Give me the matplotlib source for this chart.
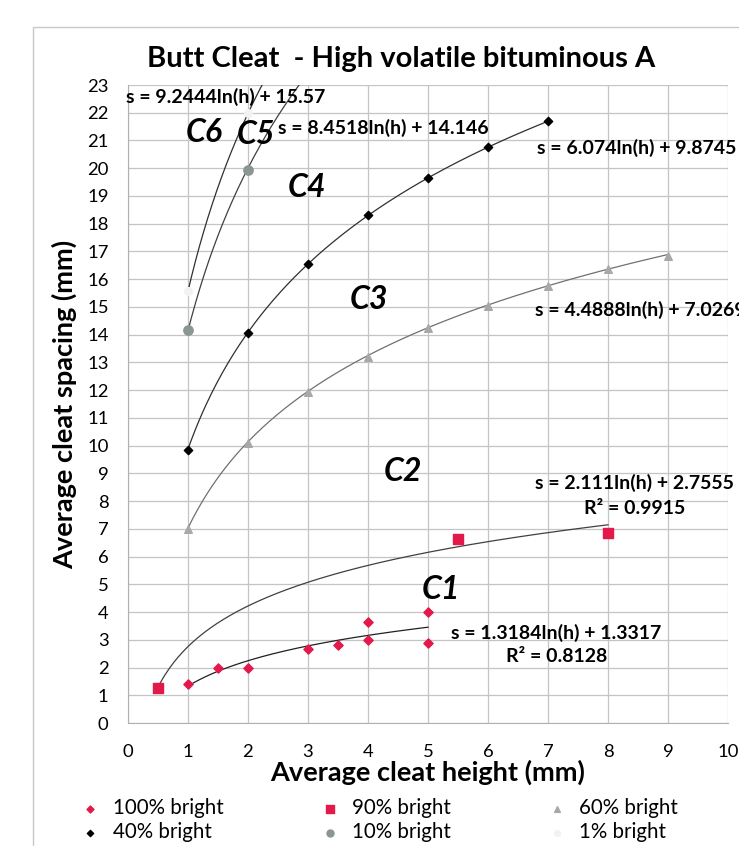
import numpy as np
import matplotlib.pyplot as plt
from matplotlib.patches import Rectangle

plt.rcParams['font.family'] = ['Lato', 'DejaVu Sans']

# data
h100 = [1, 1.5, 2, 3, 3.5, 4, 4, 5, 5]
s100 = [1.4, 2.0, 2.0, 2.65, 2.8, 3.65, 3.0, 4.0, 2.9]
h90 = [0.5, 5.5, 8]
s90 = [1.25, 6.63, 6.85]
h60 = [1, 2, 3, 4, 5, 6, 7, 8, 9]
s60 = [7.0, 10.1, 11.95, 13.2, 14.25, 15.05, 15.75, 16.35, 16.85]
h40 = [1, 2, 3, 4, 5, 6, 7]
s40 = [9.85, 14.05, 16.55, 18.3, 19.65, 20.75, 21.7]
h10 = [1, 2]
s10 = [14.15, 19.95]
h1 = [1, 2]
s1 = [15.57, 21.98]

# log trendlines: (a, b, h start, h end)
trends = {
    '100': (1.3184, 1.3317, 1, 5),
    '90': (2.111, 2.7555, 0.5, 8),
    '60': (4.4888, 7.0269, 1, 9),
    '40': (6.074, 9.8745, 1, 7),
    '10': (8.4518, 14.146, 1, 3),
    '1': (9.2444, 15.57, 1, 2.5),
}
trend_colors = {'100': '#202020', '90': '#404040', '60': '#707070',
                '40': '#303030', '10': '#404040', '1': '#303030'}

fig = plt.figure(figsize=(7.39, 8.46), dpi=100)
ax = fig.add_axes([128 / 739, 1 - 723 / 846, 600 / 739, 638 / 846])

# chart border
fig.patches.append(Rectangle((33 / 739, -0.01), 1.0, 1.01 - 27 / 846, transform=fig.transFigure,
                             fill=False, edgecolor='#c8c8c8', lw=1))

for k, (a, b, h0, h1_) in trends.items():
    hh = np.linspace(h0, h1_, 200)
    ax.plot(hh, a * np.log(hh) + b, color=trend_colors[k], lw=0.9, zorder=2)

ax.scatter(h100, s100, marker='D', s=22, color='#e3194b', zorder=3, label='100% bright')
ax.scatter(h40, s40, marker='D', s=18, color='black', zorder=3, label='40% bright')
ax.scatter(h90, s90, marker='s', s=50, color='#e3194b', zorder=3, label='90% bright')
ax.scatter(h10, s10, marker='o', s=45, color='#8a9690', zorder=3, label='10% bright')
ax.scatter(h60, s60, marker='^', s=30, color='#a8a8a8', zorder=3, label='60% bright')
ax.scatter(h1, s1, marker='o', s=30, color='#f2f2f2', zorder=3, label='1% bright')

ax.set_xlim(0, 10)
ax.set_ylim(0, 23)
ax.set_xticks(range(0, 11))
ax.set_yticks(range(0, 24))
ax.grid(True, color='#c4c4c4', lw=0.9)
ax.set_axisbelow(True)
for sp in ['top', 'right']:
    ax.spines[sp].set_visible(False)
for sp in ['left', 'bottom']:
    ax.spines[sp].set_color('#b0b0b0')
ax.tick_params(axis='x', length=0, labelsize=13.3, pad=15)
ax.tick_params(axis='y', length=0, labelsize=13.3, pad=14)

ax.set_xlabel('Average cleat height (mm)', fontsize=19.5, fontweight='bold', labelpad=0)
ax.set_ylabel('Average cleat spacing (mm)', fontsize=19.5, fontweight='bold', labelpad=7)
fig.text(401 / 739, 1 - 59 / 846, 'Butt Cleat  - High volatile bituminous A', ha='center',
         va='center', fontsize=21, fontweight='bold')

# equations and zone labels
eq = dict(fontsize=14, fontweight='bold', va='center')
ax.text(-0.03, 22.57, 's = 9.2444ln(h) + 15.57', **eq)
ax.text(2.5, 21.45, 's = 8.4518ln(h) + 14.146', **eq)
ax.text(6.82, 20.73, 's = 6.074ln(h) + 9.8745', **eq)
ax.text(6.78, 14.89, 's = 4.4888ln(h) + 7.0269', clip_on=False, **eq)
ax.text(6.78, 8.65, 's = 2.111ln(h) + 2.7555', **eq)
ax.text(7.6, 7.75, 'R² = 0.9915', **eq)
ax.text(5.38, 3.24, 's = 1.3184ln(h) + 1.3317', **eq)
ax.text(6.3, 2.38, 'R² = 0.8128', **eq)

zone = dict(fontsize=23, fontweight='bold', style='italic', va='center')
ax.text(0.97, 21.3, 'C6', **zone)
ax.text(1.82, 21.2, 'C5', **zone)
ax.text(2.67, 19.32, 'C4', **zone)
ax.text(3.7, 15.25, 'C3', **zone)
ax.text(4.27, 9.05, 'C2', **zone)
ax.text(4.9, 4.8, 'C1', **zone)

fig.legend(*ax.get_legend_handles_labels(), loc='upper left',
           bbox_to_anchor=(80 / 739, 1 - 798 / 846), ncol=3, frameon=False,
           fontsize=14.8, handlelength=1.0, handletextpad=0.6, columnspacing=4.65,
           labelspacing=0.2, borderpad=0, borderaxespad=0,
           scatterpoints=1, markerscale=0.75)

fig.savefig('out.png', dpi=100)
